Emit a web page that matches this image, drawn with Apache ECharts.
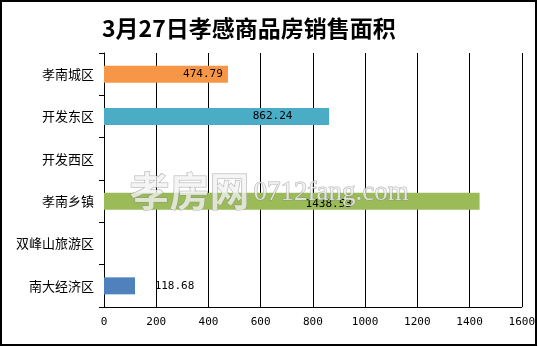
<!DOCTYPE html>
<html>
<head>
<meta charset="utf-8">
<script src="https://cdn.jsdelivr.net/npm/echarts@6/dist/echarts.min.js"></script>
<style>
html,body{margin:0;padding:0;background:#fff;}
#chart{width:538px;height:347px;}
</style>
</head>
<body>
<div id="chart"></div>
<script>
// Districts, top to bottom
const districts = ['孝南城区', '开发东区', '开发西区', '孝南乡镇', '双峰山旅游区', '南大经济区'];
// Sales area for the day (square metres); null = no sales
const areas = [474.79, 862.24, null, 1438.53, null, 118.68];
const barColors = ['#F79646', '#4BACC6', '#9BBB59', '#9BBB59', '#4F81BD', '#4F81BD'];
const xMin = 0, xMax = 1600, xStep = 200;

// horizontal nudge of each value label, measured from the bar centre
const labelShift = [37, 56, 0, 37, 0, 55];

const chart = echarts.init(document.getElementById('chart'));

const seriesData = areas.map((v, i) => ({
  value: v,
  itemStyle: { color: barColors[i] },
  label: { offset: [labelShift[i], i === 3 ? 3 : 0] }
}));

chart.setOption({
  animation: false,
  backgroundColor: '#fff',
  title: {
    text: '3月27日孝感商品房销售面积',
    left: 97,
    top: 12,
    textStyle: { fontFamily: 'Noto Sans CJK SC', fontWeight: 'bold', fontSize: 23, color: '#000' }
  },
  grid: { left: 104, right: 16, top: 53, bottom: 40, containLabel: false },
  xAxis: {
    type: 'value',
    min: xMin, max: xMax, interval: xStep,
    axisLine: { show: true, lineStyle: { color: '#000', width: 1 } },
    axisTick: { show: false },
    axisLabel: { color: '#000', fontFamily: 'DejaVu Sans Mono', fontSize: 11, margin: 10, formatter: v => String(v) },
    splitLine: { show: true, lineStyle: { color: '#000', width: 1 } }
  },
  yAxis: {
    type: 'category',
    data: districts,
    inverse: true,
    axisLine: { show: true, lineStyle: { color: '#000', width: 1 } },
    axisTick: { show: true, length: 5, lineStyle: { color: '#000' } },
    axisLabel: { color: '#000', fontFamily: 'Noto Sans CJK SC', fontSize: 13, margin: 10 }
  },
  series: [{
    type: 'bar',
    data: seriesData,
    barWidth: 17,
    z: 3,
    label: {
      show: true,
      position: 'inside',
      color: '#000',
      fontFamily: 'DejaVu Sans Mono',
      fontSize: 11,
      formatter: p => p.value == null ? '' : p.value.toFixed(2)
    }
  }],
  graphic: [
    {
      type: 'rect',
      shape: { x: 1, y: 1, width: 535, height: 344 },
      style: { fill: 'none', stroke: '#000', lineWidth: 2 },
      z: 100
    },
    {
      type: 'text',
      left: 129, top: 170,
      z: 50,
      style: {
        text: '孝房网',
        fontFamily: 'Noto Sans CJK SC',
        fontWeight: 'bold',
        fontSize: 40,
        fill: 'rgba(242,242,242,0.78)',
        stroke: 'rgba(130,130,130,0.6)',
        lineWidth: 1
      }
    },
    {
      type: 'text',
      left: 253, top: 179,
      z: 50,
      style: {
        text: '0712fang.com',
        fontFamily: 'Liberation Serif',
        fontSize: 27,
        fill: 'rgba(242,242,242,0.78)',
        stroke: 'rgba(130,130,130,0.6)',
        lineWidth: 1
      }
    }
  ]
});
</script>
</body>
</html>
